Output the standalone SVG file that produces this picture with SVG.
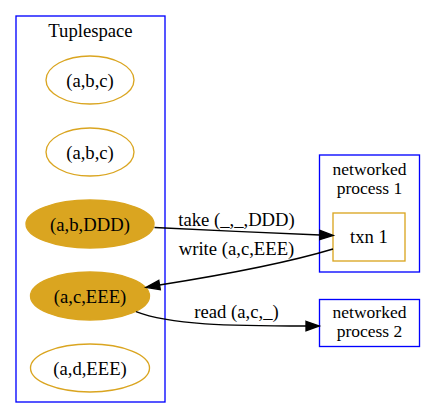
<svg xmlns="http://www.w3.org/2000/svg" width="432" height="419" viewBox="0 0 432 419">
<style>
text{font-family:'Liberation Serif','DejaVu Serif',serif;font-size:18.67px;fill:#000;text-anchor:middle}
.cl{fill:none;stroke:#0000ff;stroke-width:1.33}
.e{fill:none;stroke:#daa520;stroke-width:1.33}
.f{fill:#daa520;stroke:#daa520;stroke-width:1.33}
.edge{fill:none;stroke:#000;stroke-width:1.33}
.ah{fill:#000;stroke:#000;stroke-width:1.33}
.sm{font-size:17.5px}
</style>
<rect width="432" height="419" fill="#fff"/>
<g id="cluster_tuplespace">
<rect class="cl" x="16" y="16" width="149" height="386"/>
<text x="90.5" y="37" font-family="Liberation Serif, serif">Tuplespace</text>
</g>
<g id="cluster_np1">
<rect class="cl" x="319.5" y="155" width="100" height="117"/>
<text class="sm" x="369.5" y="175">networked</text>
<text class="sm" x="369.5" y="194">process 1</text>
</g>
<g id="t1">
<ellipse class="e" cx="90" cy="80" rx="44" ry="24"/>
<text x="90" y="86.5">(a,b,c)</text>
</g>
<g id="t2">
<ellipse class="e" cx="90" cy="152" rx="44" ry="24"/>
<text x="90" y="158.5">(a,b,c)</text>
</g>
<g id="t3">
<ellipse class="f" cx="90" cy="224" rx="64" ry="24"/>
<text x="90" y="230.5">(a,b,DDD)</text>
</g>
<g id="t4">
<ellipse class="f" cx="90" cy="296" rx="59.5" ry="24"/>
<text x="90" y="302.5">(a,c,EEE)</text>
</g>
<g id="t5">
<ellipse class="e" cx="90" cy="368" rx="59.5" ry="24"/>
<text x="90" y="374.5">(a,d,EEE)</text>
</g>
<g id="txn1">
<rect class="e" x="333" y="213" width="72" height="48"/>
<text x="369" y="243">txn 1</text>
</g>
<g id="np2">
<rect class="cl" x="319.5" y="299.5" width="100" height="47"/>
<text class="sm" x="369.5" y="318">networked</text>
<text class="sm" x="369.5" y="337">process 2</text>
</g>
<g id="edges">
<path class="edge" d="M154.5,227.5 C205,230 270,233 320,235"/>
<polygon class="ah" points="320,230.3 333.3,235.5 319.7,239.7"/>
<text x="236.5" y="226">take (_,_,DDD)</text>
<path class="edge" d="M333,249 C280,265 210,277 159.5,285"/>
<polygon class="ah" points="158.8,280.4 146,287.3 160.3,289.6"/>
<text x="236.5" y="255">write (a,c,EEE)</text>
<path class="edge" d="M136,311.7 C170,325 230,326 306,326"/>
<polygon class="ah" points="306,321.3 319.3,326 306,330.7"/>
<text x="236.5" y="318">read (a,c,_)</text>
</g>
</svg>
